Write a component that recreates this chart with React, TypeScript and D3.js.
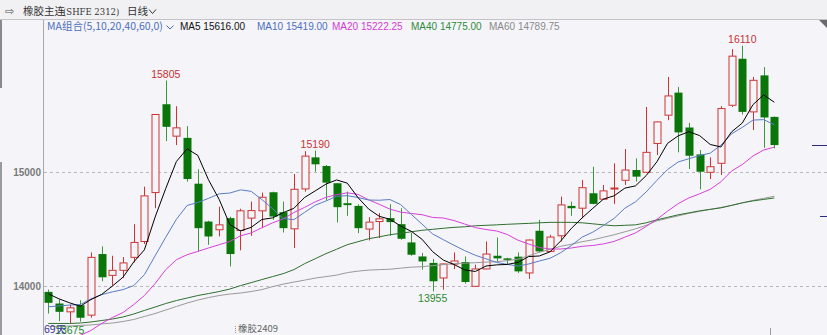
import React from 'react';
import * as d3 from 'd3';

const W = 827;
const H = 335;

// OHLC (69 trading days)
const opens = [13951, 13849, 13776, 13834, 13747, 14283, 14096, 14140, 14254, 14393, 14822, 15597, 15317, 15302, 14900, 14568, 14496, 14598, 14490, 14598, 14662, 14825, 14650, 14504, 14854, 15131, 15055, 14904, 14729, 14705, 14502, 14568, 14598, 14545, 14385, 14262, 14205, 14073, 14195, 14213, 14000, 14152, 14268, 14245, 14260, 14117, 14487, 14306, 14443, 14705, 14685, 14816, 14764, 14858, 14930, 15020, 15000, 15253, 15501, 15699, 15393, 15157, 15000, 15079, 15588, 15996, 15530, 15850, 15486];
const highs = [13971, 13884, 13840, 13878, 14297, 14350, 14268, 14257, 14545, 14874, 15510, 15805, 15580, 15405, 15026, 14575, 14699, 14610, 14680, 14743, 14822, 14830, 14743, 14985, 15185, 15190, 15064, 14904, 14830, 14720, 14607, 14642, 14720, 14685, 14467, 14292, 14240, 14200, 14297, 14262, 14190, 14393, 14428, 14250, 14297, 14410, 14583, 14452, 14787, 14743, 14933, 15049, 14889, 15079, 15204, 15122, 15573, 15445, 15836, 15748, 15434, 15195, 15131, 15580, 16080, 16110, 15836, 15923, 15490];
const lows = [13761, 13694, 13675, 13690, 13724, 14044, 14006, 14073, 14210, 14371, 14685, 15274, 15239, 14918, 14306, 14364, 14437, 14175, 14315, 14443, 14510, 14583, 14472, 14336, 14830, 15005, 14752, 14560, 14618, 14467, 14402, 14423, 14443, 14408, 14268, 14146, 13955, 13970, 14152, 14024, 13995, 14150, 14218, 14190, 14117, 14065, 14297, 14300, 14393, 14618, 14598, 14720, 14760, 14723, 14889, 14918, 14995, 15151, 15457, 15175, 15029, 14851, 14941, 14976, 15573, 15507, 15370, 15215, 15210];
const closes = [13855, 13776, 13811, 13724, 14254, 14079, 14140, 14205, 14385, 14793, 15507, 15399, 15390, 14941, 14510, 14437, 14539, 14283, 14662, 14664, 14781, 14612, 14510, 14851, 15142, 15070, 14909, 14694, 14712, 14510, 14563, 14592, 14563, 14417, 14277, 14218, 14044, 14196, 14222, 14038, 14152, 14283, 14245, 14240, 14131, 14406, 14306, 14432, 14714, 14685, 14865, 14723, 14837, 14862, 15020, 14962, 15175, 15442, 15670, 15350, 15145, 15005, 15049, 15559, 16019, 15530, 15807, 15481, 15239];

// Moving averages as shown in the reference
const ma5 = [13934, 13890, 13855, 13825, 13884, 13929, 14002, 14080, 14213, 14320, 14606, 14858, 15095, 15206, 15149, 14935, 14763, 14542, 14486, 14517, 14586, 14600, 14646, 14684, 14779, 14837, 14896, 14933, 14905, 14779, 14678, 14614, 14588, 14529, 14482, 14413, 14304, 14230, 14191, 14144, 14130, 14178, 14188, 14192, 14210, 14261, 14266, 14303, 14398, 14509, 14600, 14684, 14765, 14794, 14861, 14881, 14971, 15092, 15254, 15320, 15356, 15322, 15244, 15222, 15355, 15432, 15593, 15679, 15615];
const ma10 = [13820, 13828, 13835, 13840, 13890, 13927, 13951, 13971, 14006, 14102, 14267, 14430, 14588, 14709, 14735, 14771, 14811, 14818, 14846, 14833, 14761, 14682, 14594, 14585, 14648, 14711, 14748, 14790, 14795, 14779, 14757, 14755, 14761, 14717, 14631, 14546, 14459, 14409, 14360, 14313, 14272, 14241, 14209, 14192, 14177, 14196, 14222, 14246, 14295, 14359, 14431, 14475, 14534, 14596, 14685, 14741, 14828, 14929, 15024, 15091, 15119, 15147, 15168, 15238, 15338, 15394, 15458, 15462, 15418];
const ma20 = [13490, 13517, 13543, 13569, 13613, 13674, 13726, 13770, 13840, 13919, 14024, 14146, 14233, 14277, 14306, 14336, 14365, 14393, 14443, 14468, 14514, 14556, 14591, 14647, 14692, 14741, 14780, 14804, 14820, 14806, 14759, 14719, 14677, 14651, 14639, 14628, 14604, 14599, 14577, 14546, 14515, 14498, 14485, 14454, 14404, 14371, 14340, 14327, 14327, 14336, 14351, 14358, 14372, 14394, 14431, 14468, 14525, 14587, 14659, 14725, 14775, 14811, 14851, 14917, 15011, 15068, 15143, 15195, 15221];
const ma40 = [13674, 13674, 13674, 13678, 13687, 13700, 13713, 13731, 13757, 13788, 13818, 13849, 13875, 13897, 13919, 13936, 13954, 13976, 14006, 14032, 14059, 14085, 14111, 14146, 14198, 14242, 14286, 14325, 14365, 14391, 14417, 14434, 14452, 14465, 14478, 14491, 14500, 14509, 14517, 14522, 14531, 14535, 14539, 14544, 14548, 14552, 14557, 14561, 14561, 14561, 14557, 14548, 14539, 14531, 14535, 14539, 14557, 14583, 14605, 14627, 14644, 14662, 14675, 14688, 14710, 14732, 14749, 14762, 14775];
const ma60 = [13648, 13648, 13652, 13657, 13661, 13670, 13678, 13691, 13709, 13735, 13761, 13792, 13823, 13853, 13879, 13901, 13919, 13932, 13941, 13954, 13971, 13997, 14019, 14037, 14054, 14072, 14085, 14098, 14120, 14133, 14142, 14146, 14150, 14159, 14168, 14172, 14181, 14190, 14198, 14203, 14207, 14212, 14216, 14225, 14238, 14268, 14299, 14325, 14351, 14369, 14391, 14408, 14430, 14452, 14478, 14504, 14535, 14574, 14596, 14618, 14640, 14657, 14675, 14692, 14710, 14732, 14754, 14771, 14790];

const yTicks = [14000, 15000];
const maNames = ['MA5', 'MA10', 'MA20', 'MA40', 'MA60'];
const maLegendValues = ['15616.00', '15419.00', '15222.25', '14775.00', '14789.75'];
const maColors = ['#000000', '#5a7cc4', '#d93fd9', '#2f6f2f', '#9a9a9a'];
const maTextColors = ['#111111', '#4d6fbf', '#d23cd2', '#2f8a3a', '#8a8a8a'];
const maLegendX = [180, 257, 332, 411, 489];
const highLabelIdx = [11, 25, 65];
const lowLabelIdx = [2, 36];

const RED = '#cc3434';
const GREEN_BODY = '#0a760a';
const GREEN_WICK = '#3a9a3a';
const BG = '#f5f5f9';

export default function App() {
  const x = d3.scaleLinear().domain([0, closes.length - 1]).range([48.3, 774.3]);
  const y = d3.scaleLinear().domain([14000, 15000]).range([286.3, 172.3]);
  const mkLine = (arr: number[]) =>
    d3.line<number>().x((_, i) => x(i)).y((d) => y(d))(arr) || '';
  const maSeries = [ma5, ma10, ma20, ma40, ma60];
  const drawOrder = [4, 3, 2, 1, 0];
  const bw = 8;

  return (
    <svg
      width={W}
      height={H}
      style={{ position: 'absolute', left: 0, top: 0, display: 'block' }}
      xmlns="http://www.w3.org/2000/svg"
    >
      <defs>
        <clipPath id="plot">
          <rect x={44} y={20} width={W - 44} height={H - 20} />
        </clipPath>
      </defs>
      <rect x={0} y={0} width={W} height={H} fill={BG} />
      {/* header bar */}
      <rect x={0} y={0} width={W} height={19} fill="#f1f1f3" />
      <line x1={0} x2={W} y1={19.5} y2={19.5} stroke="#c4c4c8" />
      <text x={5} y={15} fontFamily="DejaVu Sans" fontSize={11} fill="#555">⇨</text>
      <text x={23} y={15} fontFamily="'Noto Sans CJK SC'" fontSize={10.5} fill="#333">橡胶主连</text>
      <text x={63} y={15} fontFamily="'DejaVu Serif'" fontSize={8.5} fill="#333">(SHFE 2312)</text>
      <text x={127} y={15} fontFamily="'Noto Sans CJK SC'" fontSize={10.5} fill="#333">日线</text>
      <path d="M149,9.5 L152.5,13.5 L156,9.5" fill="none" stroke="#333" strokeWidth={1} />

      {/* left axis panel */}
      <line x1={43.5} x2={43.5} y1={20} y2={H} stroke="#a8a8ac" />
      <rect x={0} y={20} width={2} height={68} fill="#8a8a8e" />
      <rect x={0} y={162} width={2} height={H - 162} fill="#9a9a9e" />
      {yTicks.map((t) => (
        <g key={t}>
          <line x1={44} x2={W} y1={Math.round(y(t)) + 0.5} y2={Math.round(y(t)) + 0.5} stroke="#b8b8bc" strokeDasharray="3,3" />
          <text x={41} y={y(t) + 3.5} textAnchor="end" fontFamily="'Liberation Sans'" fontWeight="bold" fontSize={10} fill="#7a7a7a">
            {t}
          </text>
        </g>
      ))}

      {/* legend */}
      <text x={47} y={30} fontFamily="'Noto Sans CJK SC'" fontSize={10.5} fill="#4d6fbf">MA组合(5,10,20,40,60,0)</text>
      <path d="M166.5,25.5 L170,29 L173.5,25.5" fill="none" stroke="#4d6fbf" strokeWidth={1} />
      {maNames.map((n, k) => (
        <text key={n} x={maLegendX[k]} y={30} fontFamily="'Liberation Sans'" fontSize={10} fill={maTextColors[k]}>
          {n} {maLegendValues[k]}
        </text>
      ))}

      <g clipPath="url(#plot)">
        {/* candles */}
        {closes.map((c, i) => {
          const o = opens[i];
          const up = c >= o;
          const cx = Math.round(x(i)) + 0.5;
          const top = y(Math.max(o, c));
          const bot = y(Math.min(o, c));
          if (up) {
            return (
              <g key={i}>
                <line x1={cx} x2={cx} y1={y(highs[i])} y2={top} stroke={RED} />
                <line x1={cx} x2={cx} y1={bot} y2={y(lows[i])} stroke={RED} />
                <rect x={cx - bw / 2 + 0.5} y={top} width={bw - 1} height={Math.max(1, bot - top)} fill={BG} stroke={RED} strokeWidth={1} />
              </g>
            );
          }
          return (
            <g key={i}>
              <line x1={cx} x2={cx} y1={y(highs[i])} y2={y(lows[i])} stroke={GREEN_WICK} />
              <rect x={cx - bw / 2} y={top} width={bw} height={Math.max(1.5, bot - top)} fill={GREEN_BODY} />
            </g>
          );
        })}
        {/* moving averages */}
        {drawOrder.map((k) => (
          <path key={k} d={mkLine(maSeries[k])} fill="none" stroke={maColors[k]} strokeWidth={1} />
        ))}
      </g>

      {/* extreme labels */}
      {highLabelIdx.map((i) => (
        <text key={'h' + i} x={x(i)} y={y(highs[i]) - 3} textAnchor="middle" fontFamily="'Liberation Sans'" fontSize={10.5} fill="#c83232">
          {highs[i]}
        </text>
      ))}
      {lowLabelIdx.map((i) => (
        <text key={'l' + i} x={x(i)} y={y(lows[i]) + 10.5} textAnchor="middle" fontFamily="'Liberation Sans'" fontSize={10.5} fill="#2e8a2e">
          {lows[i]}
        </text>
      ))}

      {/* bottom annotations */}
      <text x={44} y={333} fontFamily="'Noto Sans CJK SC'" fontSize={10.5} fill="#3a3a9a">{closes.length}天</text>
      <line x1={235.5} x2={235.5} y1={326} y2={333} stroke="#999" strokeDasharray="1,1" />
      <text x={238} y={332} fontFamily="'Noto Sans CJK SC'" fontSize={9.5} fill="#666">橡胶2409</text>
      <line x1={770.5} x2={770.5} y1={328} y2={H} stroke="#999" />

      {/* right side marks */}
      <polygon points="819,20 827,20 827,28" fill="#6a6a6e" />
      <line x1={812} x2={W} y1={145.5} y2={145.5} stroke="#2a2a7a" />
      <line x1={820} x2={W} y1={216.5} y2={216.5} stroke="#2a2a7a" />
    </svg>
  );
}
